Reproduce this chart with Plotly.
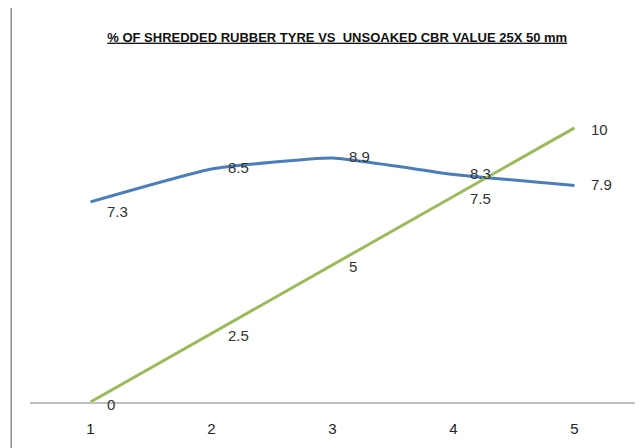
import plotly.graph_objects as go

# % of shredded rubber tyre (category index on x)
x_vals = [1, 2, 3, 4, 5]
cbr_unsoaked = [7.3, 8.5, 8.9, 8.3, 7.9]
rubber_pct = [0, 2.5, 5, 7.5, 10]
cbr_labels = ["7.3", "8.5", "8.9", "8.3", "7.9"]
pct_labels = ["0", "2.5", "5", "7.5", "10"]

FONT = "Liberation Sans, Arial, sans-serif"

fig = go.Figure()

fig.add_trace(go.Scatter(
    x=x_vals, y=cbr_unsoaked, mode="lines",
    line=dict(color="#4A7EBB", width=3, shape="spline", smoothing=0.4),
    showlegend=False, hoverinfo="skip",
))
fig.add_trace(go.Scatter(
    x=x_vals, y=rubber_pct, mode="lines",
    line=dict(color="#9BBB59", width=3),
    showlegend=False, hoverinfo="skip",
))

# data labels, placed right of each point
for i, (xv, yv, t) in enumerate(zip(x_vals, cbr_unsoaked, cbr_labels)):
    fig.add_annotation(x=xv, y=yv, text=t, showarrow=False, xanchor="left",
                       xshift=14, yshift=-10 if i == 0 else 1,
                       font=dict(family=FONT, size=15, color="#333333"))
for xv, yv, t in zip(x_vals, rubber_pct, pct_labels):
    fig.add_annotation(x=xv, y=yv, text=t, showarrow=False, xanchor="left",
                       xshift=14, yshift=-2,
                       font=dict(family=FONT, size=15, color="#333333"))

# chart frame
fig.add_shape(type="rect", xref="paper", yref="paper",
              x0=-0.031, x1=1.08, y0=-0.3, y1=1.21,
              line=dict(color="#8c8c8c", width=1.5), layer="below")

fig.update_layout(
    width=643, height=448,
    margin=dict(l=22, r=16, t=65, b=54),
    paper_bgcolor="white", plot_bgcolor="white",
    title=dict(
        text="<b><u>% OF SHREDDED RUBBER TYRE VS  UNSOAKED CBR VALUE 25X 50 mm</u></b>",
        x=0.512, xanchor="center", y=0.935, yanchor="middle",
        font=dict(family=FONT, size=13, color="#111111"),
    ),
    xaxis=dict(
        range=[0.5, 5.5], tickvals=x_vals, ticktext=[str(v) for v in x_vals],
        showgrid=False, zeroline=False,
        showline=True, linecolor="#BFBFBF", linewidth=2,
        ticks="outside", ticklen=12, tickcolor="rgba(0,0,0,0)",
        tickfont=dict(family=FONT, size=15, color="#222222"),
    ),
    yaxis=dict(
        range=[0, 12], showgrid=False, zeroline=False,
        showline=False, showticklabels=False,
    ),
)

fig.write_html("out.html")
